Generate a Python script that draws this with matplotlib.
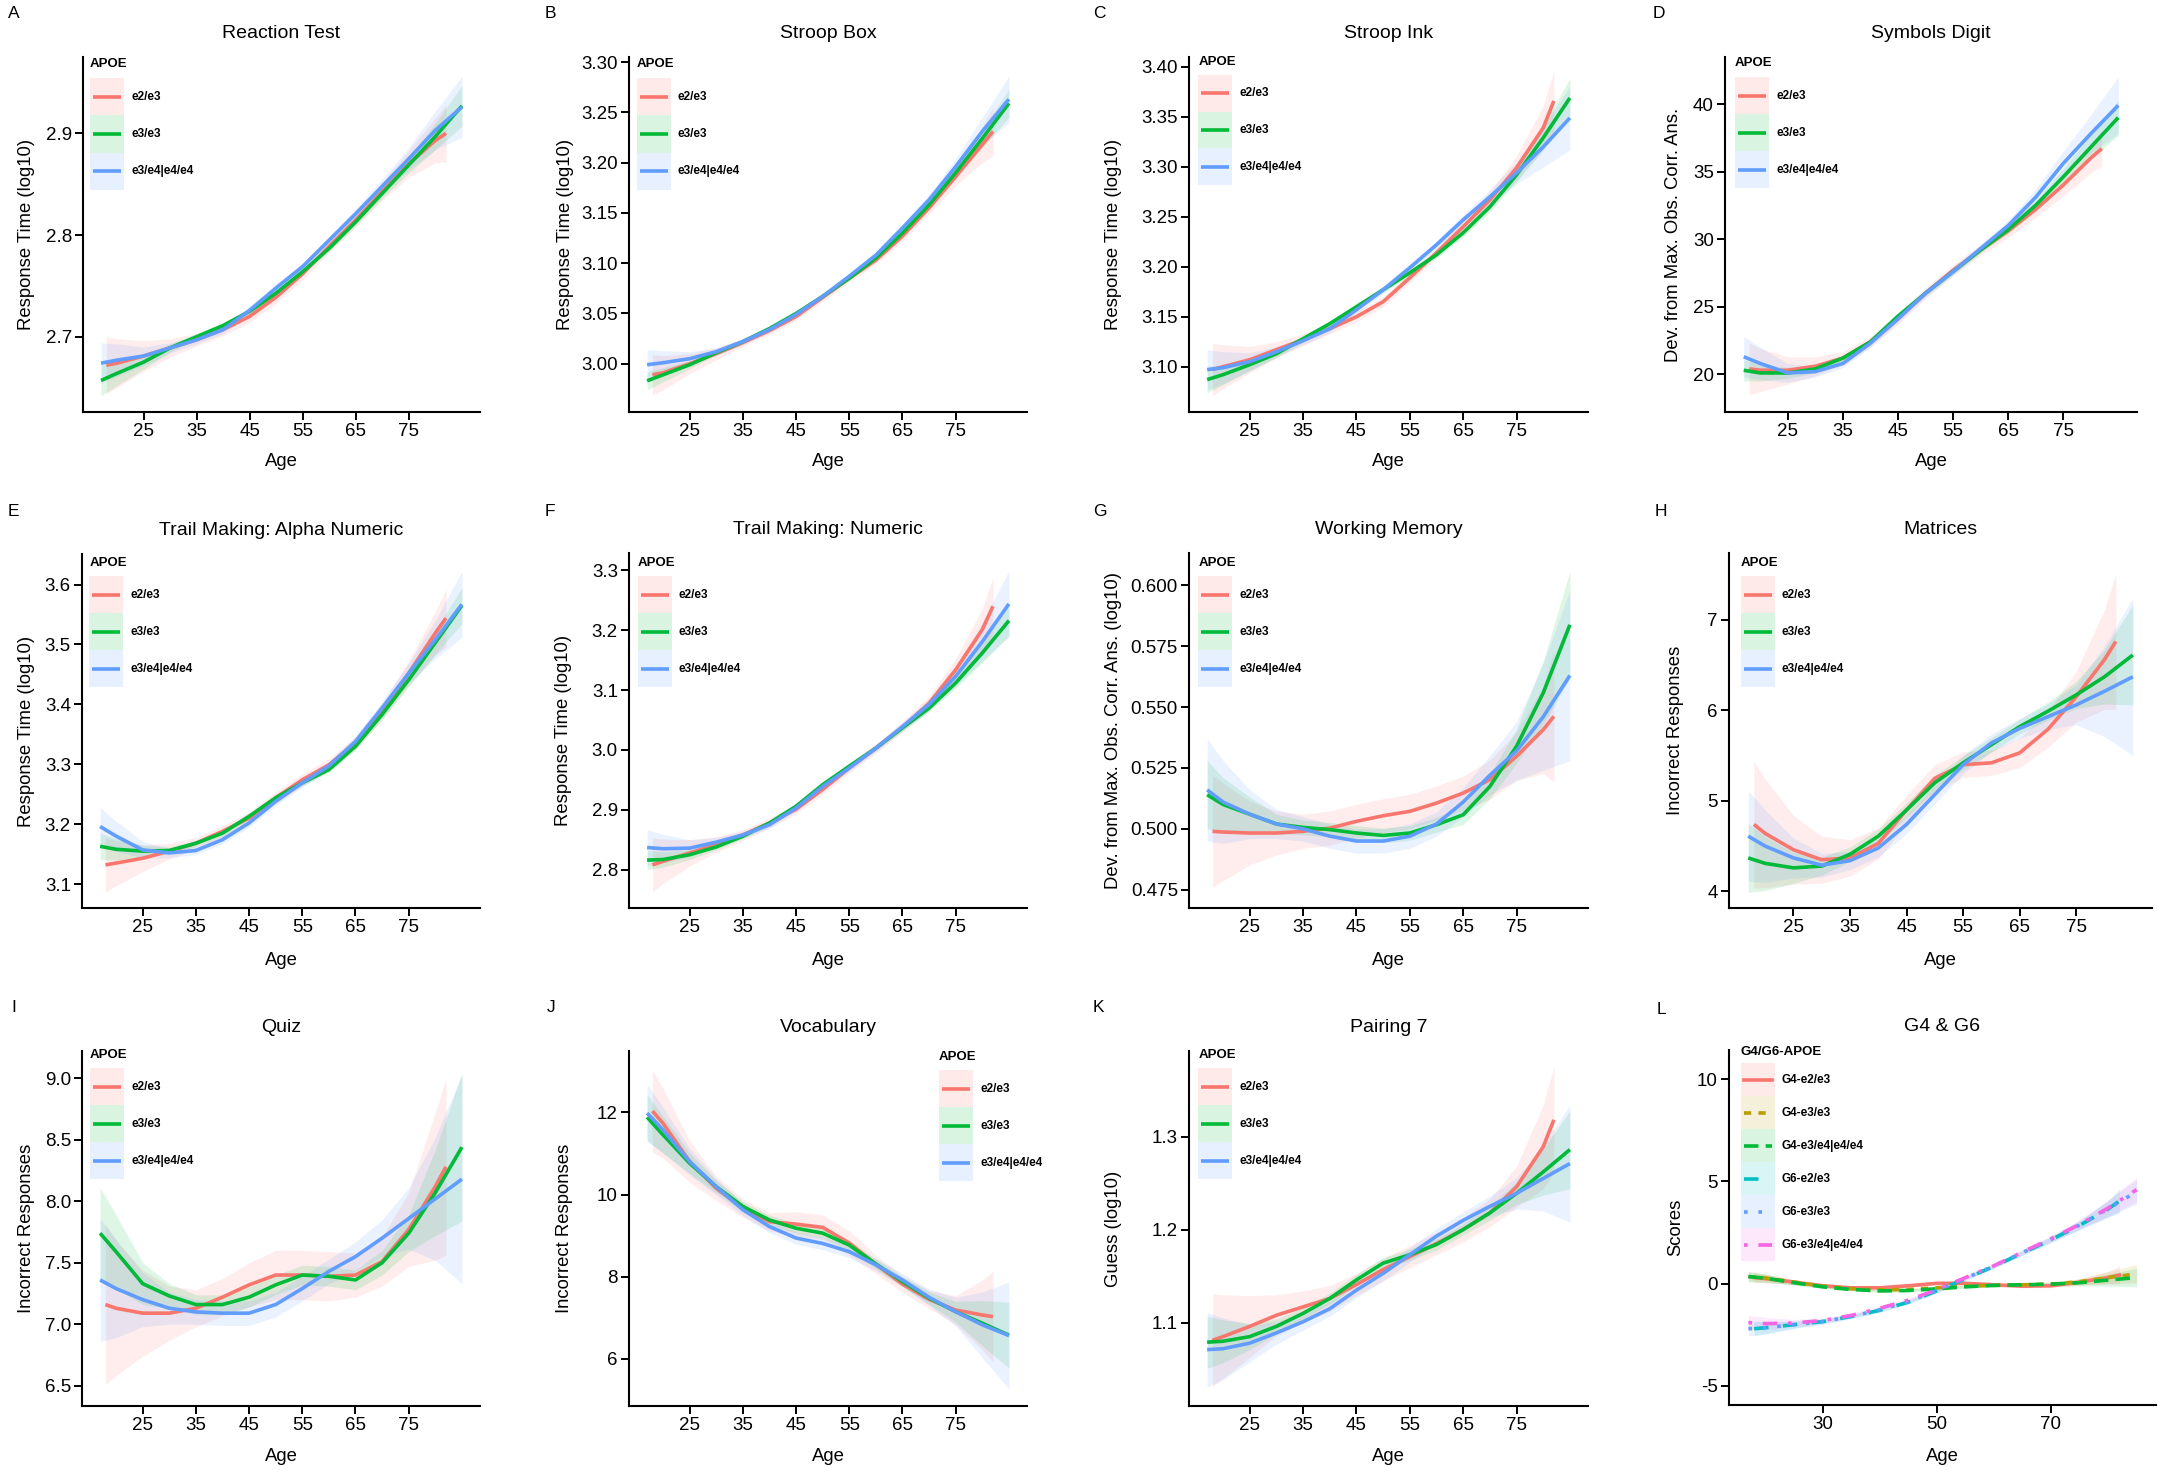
import matplotlib
matplotlib.use("Agg")
import matplotlib.pyplot as plt
from matplotlib.legend_handler import HandlerBase
from matplotlib.patches import Rectangle
from matplotlib.lines import Line2D

plt.rcParams['font.family'] = ['Liberation Sans', 'DejaVu Sans']

# ---------------- data ----------------
AGES = [17, 20, 25, 30, 35, 40, 45, 50, 55, 60, 65, 70, 75, 80, 85]
AGES_E23 = [18, 20, 25, 30, 35, 40, 45, 50, 55, 60, 65, 70, 75, 80, 82]
APOE_GROUPS = ["e2/e3", "e3/e3", "e3/e4|e4/e4"]
APOE_COLORS = ["#F8766D", "#00BA38", "#619CFF"]
X_TICKS = [25, 35, 45, 55, 65, 75]

# A Reaction Test
REACT_E23 = [2.672, 2.674, 2.681, 2.689, 2.697, 2.707, 2.720, 2.739, 2.762, 2.789, 2.815, 2.843, 2.870, 2.893, 2.900]
REACT_E33 = [2.657, 2.664, 2.675, 2.689, 2.700, 2.711, 2.725, 2.743, 2.764, 2.787, 2.813, 2.841, 2.869, 2.897, 2.927]
REACT_E34 = [2.674, 2.677, 2.681, 2.689, 2.697, 2.707, 2.726, 2.748, 2.769, 2.795, 2.821, 2.848, 2.875, 2.903, 2.926]
REACT_E23_HW = [0.028, 0.024, 0.015, 0.009, 0.006, 0.006, 0.006, 0.006, 0.006, 0.006, 0.007, 0.009, 0.013, 0.022, 0.028]
REACT_E33_HW = [0.015, 0.012, 0.007, 0.004, 0.003, 0.003, 0.003, 0.003, 0.003, 0.003, 0.004, 0.005, 0.008, 0.013, 0.020]
REACT_E34_HW = [0.020, 0.016, 0.009, 0.005, 0.004, 0.004, 0.004, 0.004, 0.004, 0.004, 0.005, 0.007, 0.011, 0.019, 0.030]

# B Stroop Box
BOX_E23 = [2.989, 2.991, 3.000, 3.010, 3.021, 3.033, 3.047, 3.066, 3.085, 3.103, 3.127, 3.155, 3.186, 3.218, 3.231]
BOX_E33 = [2.983, 2.989, 2.999, 3.011, 3.022, 3.035, 3.050, 3.067, 3.085, 3.105, 3.130, 3.158, 3.190, 3.224, 3.259]
BOX_E34 = [2.999, 3.001, 3.005, 3.012, 3.022, 3.034, 3.049, 3.067, 3.087, 3.108, 3.135, 3.163, 3.196, 3.231, 3.263]
BOX_E23_HW = [0.020, 0.017, 0.010, 0.006, 0.004, 0.004, 0.004, 0.004, 0.004, 0.004, 0.005, 0.006, 0.009, 0.018, 0.024]
BOX_E33_HW = [0.009, 0.007, 0.004, 0.002, 0.002, 0.002, 0.002, 0.002, 0.002, 0.002, 0.003, 0.004, 0.005, 0.009, 0.014]
BOX_E34_HW = [0.015, 0.012, 0.007, 0.004, 0.003, 0.003, 0.003, 0.003, 0.003, 0.003, 0.004, 0.005, 0.008, 0.014, 0.023]

# C Stroop Ink
INK_E23 = [3.097, 3.100, 3.107, 3.117, 3.127, 3.138, 3.150, 3.165, 3.189, 3.214, 3.240, 3.267, 3.299, 3.339, 3.366]
INK_E33 = [3.087, 3.092, 3.102, 3.113, 3.128, 3.143, 3.160, 3.177, 3.194, 3.212, 3.234, 3.260, 3.292, 3.329, 3.369]
INK_E34 = [3.097, 3.099, 3.105, 3.115, 3.126, 3.138, 3.157, 3.177, 3.199, 3.222, 3.247, 3.270, 3.294, 3.320, 3.349]
INK_E23_HW = [0.026, 0.022, 0.013, 0.008, 0.006, 0.005, 0.005, 0.005, 0.005, 0.005, 0.006, 0.008, 0.012, 0.022, 0.030]
INK_E33_HW = [0.013, 0.010, 0.006, 0.004, 0.003, 0.003, 0.003, 0.003, 0.003, 0.003, 0.004, 0.005, 0.007, 0.012, 0.020]
INK_E34_HW = [0.020, 0.016, 0.009, 0.005, 0.004, 0.004, 0.004, 0.004, 0.004, 0.004, 0.005, 0.007, 0.011, 0.020, 0.032]

# D Symbols Digit
SYM_E23 = [20.4, 20.3, 20.3, 20.6, 21.2, 22.4, 24.1, 26.0, 27.7, 29.2, 30.6, 32.2, 34.0, 36.0, 36.7]
SYM_E33 = [20.3, 20.1, 20.1, 20.4, 21.2, 22.4, 24.3, 26.0, 27.6, 29.2, 30.7, 32.5, 34.6, 36.8, 39.0]
SYM_E34 = [21.3, 20.8, 20.1, 20.2, 20.8, 22.3, 24.1, 26.0, 27.6, 29.3, 31.0, 33.1, 35.6, 37.8, 39.9]
SYM_E23_HW = [1.9, 1.6, 1.0, 0.7, 0.5, 0.4, 0.4, 0.4, 0.4, 0.4, 0.5, 0.6, 0.8, 1.1, 1.3]
SYM_E33_HW = [0.8, 0.6, 0.4, 0.3, 0.2, 0.2, 0.2, 0.2, 0.2, 0.2, 0.3, 0.4, 0.6, 0.9, 1.3]
SYM_E34_HW = [1.5, 1.2, 0.7, 0.4, 0.3, 0.3, 0.3, 0.3, 0.3, 0.3, 0.4, 0.6, 0.9, 1.4, 2.1]

# E Trail Making: Alpha Numeric
TMA_E23 = [3.132, 3.135, 3.143, 3.155, 3.168, 3.188, 3.210, 3.244, 3.274, 3.299, 3.336, 3.388, 3.452, 3.519, 3.544]
TMA_E33 = [3.163, 3.158, 3.155, 3.156, 3.168, 3.185, 3.213, 3.244, 3.269, 3.291, 3.330, 3.383, 3.441, 3.503, 3.565]
TMA_E34 = [3.196, 3.180, 3.157, 3.152, 3.156, 3.174, 3.202, 3.238, 3.269, 3.297, 3.338, 3.394, 3.452, 3.508, 3.567]
TMA_E23_HW = [0.045, 0.038, 0.022, 0.013, 0.010, 0.010, 0.010, 0.010, 0.010, 0.010, 0.011, 0.014, 0.020, 0.036, 0.048]
TMA_E33_HW = [0.022, 0.018, 0.010, 0.006, 0.005, 0.005, 0.005, 0.005, 0.005, 0.005, 0.006, 0.008, 0.012, 0.020, 0.030]
TMA_E34_HW = [0.032, 0.025, 0.014, 0.008, 0.007, 0.007, 0.007, 0.007, 0.007, 0.007, 0.008, 0.011, 0.017, 0.032, 0.055]

# F Trail Making: Numeric
TMN_E23 = [2.808, 2.814, 2.828, 2.842, 2.858, 2.878, 2.901, 2.934, 2.970, 3.003, 3.038, 3.078, 3.134, 3.201, 3.240]
TMN_E33 = [2.816, 2.817, 2.825, 2.838, 2.856, 2.878, 2.906, 2.942, 2.973, 3.003, 3.037, 3.070, 3.112, 3.162, 3.216]
TMN_E34 = [2.837, 2.835, 2.836, 2.846, 2.858, 2.875, 2.903, 2.939, 2.970, 3.003, 3.039, 3.076, 3.123, 3.181, 3.244]
TMN_E23_HW = [0.045, 0.037, 0.022, 0.013, 0.009, 0.008, 0.008, 0.008, 0.008, 0.008, 0.009, 0.012, 0.018, 0.035, 0.048]
TMN_E33_HW = [0.016, 0.013, 0.008, 0.005, 0.004, 0.004, 0.004, 0.004, 0.004, 0.004, 0.005, 0.006, 0.009, 0.016, 0.025]
TMN_E34_HW = [0.030, 0.024, 0.014, 0.008, 0.006, 0.006, 0.006, 0.006, 0.006, 0.006, 0.007, 0.010, 0.016, 0.032, 0.055]

# G Working Memory
WM_E23 = [0.4990, 0.4987, 0.4983, 0.4983, 0.4990, 0.5003, 0.5031, 0.5054, 0.5072, 0.5106, 0.5147, 0.5202, 0.5298, 0.5407, 0.5462]
WM_E33 = [0.5140, 0.5100, 0.5060, 0.5020, 0.5006, 0.4997, 0.4983, 0.4973, 0.4983, 0.5017, 0.5058, 0.5174, 0.5339, 0.5558, 0.5838]
WM_E34 = [0.5160, 0.5110, 0.5060, 0.5020, 0.5000, 0.4970, 0.4950, 0.4950, 0.4970, 0.5020, 0.5110, 0.5220, 0.5320, 0.5460, 0.5630]
WM_E23_HW = [0.023, 0.020, 0.013, 0.009, 0.007, 0.007, 0.007, 0.007, 0.007, 0.007, 0.007, 0.008, 0.010, 0.018, 0.027]
WM_E33_HW = [0.014, 0.011, 0.007, 0.004, 0.003, 0.003, 0.003, 0.003, 0.003, 0.003, 0.004, 0.005, 0.007, 0.013, 0.022]
WM_E34_HW = [0.021, 0.017, 0.010, 0.006, 0.005, 0.005, 0.005, 0.005, 0.005, 0.005, 0.006, 0.008, 0.012, 0.022, 0.035]

# H Matrices
MAT_E23 = [4.74, 4.64, 4.46, 4.35, 4.37, 4.53, 4.90, 5.25, 5.40, 5.42, 5.53, 5.79, 6.15, 6.56, 6.76]
MAT_E33 = [4.37, 4.31, 4.26, 4.28, 4.41, 4.61, 4.90, 5.20, 5.42, 5.62, 5.82, 5.99, 6.17, 6.37, 6.61]
MAT_E34 = [4.61, 4.50, 4.37, 4.29, 4.34, 4.48, 4.74, 5.07, 5.40, 5.64, 5.80, 5.93, 6.06, 6.21, 6.37]
MAT_E23_HW = [0.70, 0.60, 0.38, 0.26, 0.20, 0.17, 0.16, 0.15, 0.14, 0.14, 0.16, 0.20, 0.28, 0.55, 0.75]
MAT_E33_HW = [0.38, 0.30, 0.17, 0.10, 0.08, 0.08, 0.08, 0.08, 0.08, 0.08, 0.08, 0.10, 0.15, 0.30, 0.55]
MAT_E34_HW = [0.50, 0.40, 0.22, 0.13, 0.10, 0.10, 0.10, 0.10, 0.10, 0.10, 0.11, 0.14, 0.22, 0.50, 0.87]

# I Quiz
QUIZ_E23 = [7.16, 7.13, 7.09, 7.09, 7.13, 7.22, 7.32, 7.40, 7.40, 7.39, 7.40, 7.51, 7.77, 8.12, 8.28]
QUIZ_E33 = [7.74, 7.59, 7.33, 7.23, 7.16, 7.16, 7.22, 7.32, 7.40, 7.39, 7.36, 7.50, 7.74, 8.07, 8.44]
QUIZ_E34 = [7.36, 7.29, 7.20, 7.13, 7.10, 7.09, 7.09, 7.16, 7.29, 7.43, 7.55, 7.70, 7.86, 8.02, 8.18]
QUIZ_E23_HW = [0.65, 0.55, 0.35, 0.22, 0.15, 0.15, 0.18, 0.20, 0.20, 0.20, 0.18, 0.20, 0.30, 0.60, 0.72]
QUIZ_E33_HW = [0.37, 0.30, 0.17, 0.10, 0.08, 0.08, 0.08, 0.08, 0.08, 0.08, 0.08, 0.10, 0.15, 0.35, 0.60]
QUIZ_E34_HW = [0.50, 0.40, 0.22, 0.13, 0.10, 0.10, 0.10, 0.10, 0.10, 0.10, 0.12, 0.15, 0.25, 0.50, 0.85]

# J Vocabulary
VOC_E23 = [12.03, 11.73, 10.80, 10.15, 9.67, 9.34, 9.28, 9.20, 8.82, 8.30, 7.82, 7.45, 7.19, 7.07, 7.03]
VOC_E33 = [11.88, 11.45, 10.76, 10.19, 9.71, 9.38, 9.18, 9.06, 8.77, 8.31, 7.88, 7.48, 7.15, 6.87, 6.58]
VOC_E34 = [11.98, 11.57, 10.80, 10.19, 9.63, 9.22, 8.94, 8.81, 8.61, 8.29, 7.92, 7.50, 7.15, 6.83, 6.57]
VOC_E23_HW = [1.00, 0.85, 0.50, 0.30, 0.22, 0.22, 0.30, 0.30, 0.30, 0.22, 0.20, 0.22, 0.35, 0.85, 1.10]
VOC_E33_HW = [0.55, 0.45, 0.25, 0.15, 0.12, 0.12, 0.12, 0.12, 0.12, 0.12, 0.12, 0.15, 0.25, 0.55, 0.80]
VOC_E34_HW = [0.70, 0.55, 0.32, 0.20, 0.15, 0.15, 0.15, 0.15, 0.15, 0.15, 0.16, 0.20, 0.35, 0.80, 1.30]

# K Pairing 7
PAIR_E23 = [1.081, 1.085, 1.096, 1.108, 1.117, 1.126, 1.141, 1.157, 1.171, 1.185, 1.200, 1.218, 1.246, 1.289, 1.318]
PAIR_E33 = [1.079, 1.080, 1.085, 1.096, 1.110, 1.126, 1.146, 1.164, 1.173, 1.184, 1.200, 1.218, 1.239, 1.262, 1.286]
PAIR_E34 = [1.071, 1.072, 1.078, 1.089, 1.101, 1.115, 1.135, 1.153, 1.173, 1.193, 1.210, 1.225, 1.239, 1.255, 1.271]
PAIR_E23_HW = [0.050, 0.045, 0.033, 0.022, 0.017, 0.014, 0.012, 0.012, 0.012, 0.012, 0.013, 0.015, 0.022, 0.045, 0.057]
PAIR_E33_HW = [0.028, 0.023, 0.014, 0.008, 0.006, 0.006, 0.006, 0.006, 0.006, 0.006, 0.006, 0.008, 0.012, 0.025, 0.042]
PAIR_E34_HW = [0.040, 0.033, 0.020, 0.012, 0.009, 0.008, 0.008, 0.008, 0.008, 0.008, 0.009, 0.011, 0.017, 0.035, 0.063]

# L G4 & G6
G_GROUPS = ["G4-e2/e3", "G4-e3/e3", "G4-e3/e4|e4/e4", "G6-e2/e3", "G6-e3/e3", "G6-e3/e4|e4/e4"]
G_COLORS = ["#F8766D", "#B79F00", "#00BA38", "#00BFC4", "#619CFF", "#F564E3"]
G_STYLES = ["-", (0, (2, 2)), (0, (4, 2)), (0, (4, 4)), (0, (1, 3)), (0, (1, 3, 4, 3))]
G4_E23 = [0.30, 0.25, 0.08, -0.10, -0.20, -0.20, -0.10, 0.02, 0.02, -0.05, -0.12, -0.10, 0.08, 0.30, 0.42]
G4_E33 = [0.35, 0.28, 0.08, -0.12, -0.25, -0.30, -0.28, -0.20, -0.12, -0.08, -0.05, -0.02, 0.10, 0.30, 0.48]
G4_E34 = [0.35, 0.27, 0.05, -0.15, -0.28, -0.35, -0.33, -0.25, -0.15, -0.08, -0.05, -0.02, 0.05, 0.18, 0.30]
G6_E23 = [-2.20, -2.15, -2.00, -1.85, -1.60, -1.30, -0.90, -0.35, 0.25, 0.85, 1.50, 2.15, 2.85, 3.65, 4.05]
G6_E33 = [-2.20, -2.15, -2.00, -1.85, -1.60, -1.28, -0.88, -0.33, 0.27, 0.87, 1.52, 2.17, 2.87, 3.67, 4.50]
G6_E34 = [-1.90, -1.95, -1.92, -1.80, -1.55, -1.20, -0.80, -0.30, 0.30, 0.88, 1.55, 2.20, 2.90, 3.70, 4.60]
G4_HW = [0.25, 0.20, 0.12, 0.08, 0.07, 0.07, 0.07, 0.07, 0.07, 0.07, 0.08, 0.10, 0.15, 0.30, 0.45]
G6_HW = [0.35, 0.30, 0.18, 0.12, 0.10, 0.10, 0.10, 0.10, 0.10, 0.10, 0.12, 0.15, 0.22, 0.40, 0.60]

# ---------------- layout ----------------
W, H = 2162, 1470
fig = plt.figure(figsize=(W / 100, H / 100), dpi=100)
fig.patch.set_facecolor("white")

LW = 2.6
RIBBON_ALPHA = 0.13
KEY_ALPHA = 0.15
LEG_FS = 8.5
PT = 100 / 72.0


class RibbonKey(HandlerBase):
    def create_artists(self, legend, orig, xd, yd, w, h, fs, trans):
        rect = Rectangle((-xd, -yd), w, h, facecolor=orig.get_color(), alpha=KEY_ALPHA,
                         edgecolor="none", transform=trans)
        inset = 0.09 * w
        yc = -yd + h / 2.0
        line = Line2D([-xd + inset, -xd + w - inset], [yc, yc])
        self.update_prop(line, orig, legend)
        line.set_transform(trans)
        return [rect, line]


def fbox(l, t, r, b):
    return [l / W, 1 - b / H, (r - l) / W, (b - t) / H]


def handleheight_for(row_px):
    return (row_px / PT / LEG_FS - 0.245) / 0.65


APOE_PANELS = [
    dict(letter="A", lxy=(8, 14), title="Reaction Test", ylabel="Response Time (log10)",
         box=(83, 57, 480, 412), ylim=(2.626, 2.975), yticks=[2.7, 2.8, 2.9], yfmt="{:.1f}",
         data=[(REACT_E23, REACT_E23_HW), (REACT_E33, REACT_E33_HW), (REACT_E34, REACT_E34_HW)],
         ylab_x=26.7, xlab_y=461.7, ltitle=(90, 64), lkeys=(90, 78.3), krow=37.2),
    dict(letter="B", lxy=(545, 14), title="Stroop Box", ylabel="Response Time (log10)",
         box=(629, 57, 1027, 412), ylim=(2.952, 3.305),
         yticks=[3.00, 3.05, 3.10, 3.15, 3.20, 3.25, 3.30], yfmt="{:.2f}",
         data=[(BOX_E23, BOX_E23_HW), (BOX_E33, BOX_E33_HW), (BOX_E34, BOX_E34_HW)],
         ylab_x=565, xlab_y=461.7, ltitle=(636.7, 64), lkeys=(636.7, 78.3), krow=37.2),
    dict(letter="C", lxy=(1093, 14), title="Stroop Ink", ylabel="Response Time (log10)",
         box=(1189, 57, 1588, 412), ylim=(3.0546, 3.410),
         yticks=[3.10, 3.15, 3.20, 3.25, 3.30, 3.35, 3.40], yfmt="{:.2f}",
         data=[(INK_E23, INK_E23_HW), (INK_E33, INK_E33_HW), (INK_E34, INK_E34_HW)],
         ylab_x=1113, xlab_y=461.7, ltitle=(1198.3, 61.7), lkeys=(1198.3, 75), krow=36.7),
    dict(letter="D", lxy=(1653, 14), title="Symbols Digit", ylabel="Dev. from Max. Obs. Corr. Ans.",
         box=(1725, 57, 2137, 412), ylim=(17.21, 43.48), yticks=[20, 25, 30, 35, 40], yfmt="{:.0f}",
         data=[(SYM_E23, SYM_E23_HW), (SYM_E33, SYM_E33_HW), (SYM_E34, SYM_E34_HW)],
         ylab_x=1674, xlab_y=461.7, ltitle=(1735, 62.7), lkeys=(1735, 77.3), krow=37.0),
    dict(letter="E", lxy=(8, 512), title="Trail Making: Alpha Numeric", ylabel="Response Time (log10)",
         box=(82, 554, 480, 908), ylim=(3.060, 3.651), yticks=[3.1, 3.2, 3.3, 3.4, 3.5, 3.6], yfmt="{:.1f}",
         data=[(TMA_E23, TMA_E23_HW), (TMA_E33, TMA_E33_HW), (TMA_E34, TMA_E34_HW)],
         ylab_x=26.7, xlab_y=960, ltitle=(89.3, 562.7), lkeys=(89.3, 576), krow=37.0),
    dict(letter="F", lxy=(545, 512), title="Trail Making: Numeric", ylabel="Response Time (log10)",
         box=(629, 553, 1027, 908), ylim=(2.736, 3.329), yticks=[2.8, 2.9, 3.0, 3.1, 3.2, 3.3], yfmt="{:.1f}",
         data=[(TMN_E23, TMN_E23_HW), (TMN_E33, TMN_E33_HW), (TMN_E34, TMN_E34_HW)],
         ylab_x=564, xlab_y=960, ltitle=(637.7, 562.7), lkeys=(637.7, 576), krow=37.0),
    dict(letter="G", lxy=(1093, 511), title="Working Memory", ylabel="Dev. from Max. Obs. Corr. Ans. (log10)",
         box=(1189, 553, 1588, 908), ylim=(0.4675, 0.6133),
         yticks=[0.475, 0.500, 0.525, 0.550, 0.575, 0.600], yfmt="{:.3f}",
         data=[(WM_E23, WM_E23_HW), (WM_E33, WM_E33_HW), (WM_E34, WM_E34_HW)],
         ylab_x=1113, xlab_y=960, ltitle=(1198.3, 562.7), lkeys=(1198.3, 576), krow=37.0),
    dict(letter="H", lxy=(1655, 512), title="Matrices", ylabel="Incorrect Responses",
         box=(1729, 553, 2152, 908), ylim=(3.817, 7.737), yticks=[4, 5, 6, 7], yfmt="{:.0f}",
         data=[(MAT_E23, MAT_E23_HW), (MAT_E33, MAT_E33_HW), (MAT_E34, MAT_E34_HW)],
         ylab_x=1676, xlab_y=960, ltitle=(1740.7, 562.7), lkeys=(1740.7, 576), krow=37.0),
    dict(letter="I", lxy=(11, 1008), title="Quiz", ylabel="Incorrect Responses",
         box=(82, 1051, 480, 1406), ylim=(6.335, 9.222),
         yticks=[6.5, 7.0, 7.5, 8.0, 8.5, 9.0], yfmt="{:.1f}",
         data=[(QUIZ_E23, QUIZ_E23_HW), (QUIZ_E33, QUIZ_E33_HW), (QUIZ_E34, QUIZ_E34_HW)],
         ylab_x=26.7, xlab_y=1456.7, ltitle=(90, 1055), lkeys=(90, 1068.3), krow=37.0),
    dict(letter="J", lxy=(547, 1008), title="Vocabulary", ylabel="Incorrect Responses",
         box=(629, 1051, 1027, 1406), ylim=(4.857, 13.49), yticks=[6, 8, 10, 12], yfmt="{:.0f}",
         data=[(VOC_E23, VOC_E23_HW), (VOC_E33, VOC_E33_HW), (VOC_E34, VOC_E34_HW)],
         ylab_x=564.5, xlab_y=1456.7, ltitle=(939, 1056.7), lkeys=(939, 1070), krow=37.0),
    dict(letter="K", lxy=(1093, 1008), title="Pairing 7", ylabel="Guess (log10)",
         box=(1189, 1051, 1588, 1406), ylim=(1.0104, 1.392), yticks=[1.1, 1.2, 1.3], yfmt="{:.1f}",
         data=[(PAIR_E23, PAIR_E23_HW), (PAIR_E33, PAIR_E33_HW), (PAIR_E34, PAIR_E34_HW)],
         ylab_x=1114, xlab_y=1456.7, ltitle=(1198.3, 1055), lkeys=(1198.3, 1068.3), krow=37.0),
]

G_PANEL = dict(letter="L", lxy=(1657, 1010), title="G4 & G6", ylabel="Scores",
               box=(1729, 1050, 2156, 1405), ylim=(-5.93, 11.43), yticks=[-5, 0, 5, 10], yfmt="{:.0f}",
               data=[(G4_E23, G4_HW), (G4_E33, G4_HW), (G4_E34, G4_HW),
                     (G6_E23, G6_HW), (G6_E33, G6_HW), (G6_E34, G6_HW)],
               ylab_x=1675.5, xlab_y=1456.7, ltitle=(1740.7, 1051.7), lkeys=(1740.7, 1063.3), krow=33.0)


def style_axes(ax, p, xticks):
    l, t, r, b = p["box"]
    ax.set_xlim(13.6, 88.4)
    ax.set_ylim(*p["ylim"])
    for s in ("top", "right"):
        ax.spines[s].set_visible(False)
    for s in ("left", "bottom"):
        ax.spines[s].set_linewidth(1.5)
        ax.spines[s].set_color("black")
    ax.set_xticks(xticks)
    ax.set_xticklabels([str(v) for v in xticks])
    ax.set_yticks(p["yticks"])
    ax.set_yticklabels([p["yfmt"].format(v) for v in p["yticks"]])
    ax.tick_params(direction="out", length=5.5, width=1.4, labelsize=13.5, pad=2.5,
                   colors="black")
    ax.set_title(p["title"], fontsize=14, pad=14)
    ax.set_ylabel(p["ylabel"], fontsize=13.3, va="center")
    ax.yaxis.set_label_coords((p["ylab_x"] - l) / (r - l), 0.5)
    ax.set_xlabel("Age", fontsize=13.3, va="center")
    ax.xaxis.set_label_coords(0.5, 1 - (p["xlab_y"] - t) / (b - t))
    fig.text(p["lxy"][0] / W, 1 - p["lxy"][1] / H, p["letter"], fontsize=12.5,
             ha="left", va="center")


def add_legend(ax, p, handles, labels, title):
    fig.text(p["ltitle"][0] / W, 1 - p["ltitle"][1] / H, title, fontsize=9.5,
             fontweight="bold", ha="left", va="center")
    leg = ax.legend(handles, labels, loc="upper left",
                    bbox_to_anchor=(p["lkeys"][0] / W, 1 - p["lkeys"][1] / H),
                    bbox_transform=fig.transFigure, frameon=False,
                    borderpad=0, borderaxespad=0, labelspacing=0,
                    handlelength=34 / PT / LEG_FS, handleheight=handleheight_for(p["krow"]),
                    handletextpad=0.6, prop={"size": LEG_FS, "weight": "bold"},
                    handler_map={Line2D: RibbonKey()})
    return leg


for p in APOE_PANELS:
    ax = fig.add_axes(fbox(*p["box"]))
    handles = []
    for i, (mean, hw) in enumerate(p["data"]):
        ages = AGES_E23 if i == 0 else AGES
        lo = [m - h for m, h in zip(mean, hw)]
        hi = [m + h for m, h in zip(mean, hw)]
        ax.fill_between(ages, lo, hi, color=APOE_COLORS[i], alpha=RIBBON_ALPHA, linewidth=0)
        ln, = ax.plot(ages, mean, color=APOE_COLORS[i], lw=LW, solid_capstyle="butt")
        handles.append(ln)
    style_axes(ax, p, X_TICKS)
    add_legend(ax, p, handles, APOE_GROUPS, "APOE")

# panel L
p = G_PANEL
ax = fig.add_axes(fbox(*p["box"]))
handles = []
for i, (mean, hw) in enumerate(p["data"]):
    ages = AGES_E23 if i in (0, 3) else AGES
    lo = [m - h for m, h in zip(mean, hw)]
    hi = [m + h for m, h in zip(mean, hw)]
    ax.fill_between(ages, lo, hi, color=G_COLORS[i], alpha=RIBBON_ALPHA, linewidth=0)
    ln, = ax.plot(ages, mean, color=G_COLORS[i], lw=LW, linestyle=G_STYLES[i])
    handles.append(ln)
style_axes(ax, p, [30, 50, 70])
add_legend(ax, p, handles, G_GROUPS, "G4/G6-APOE")

fig.savefig("out.png", dpi=100, facecolor="white")
